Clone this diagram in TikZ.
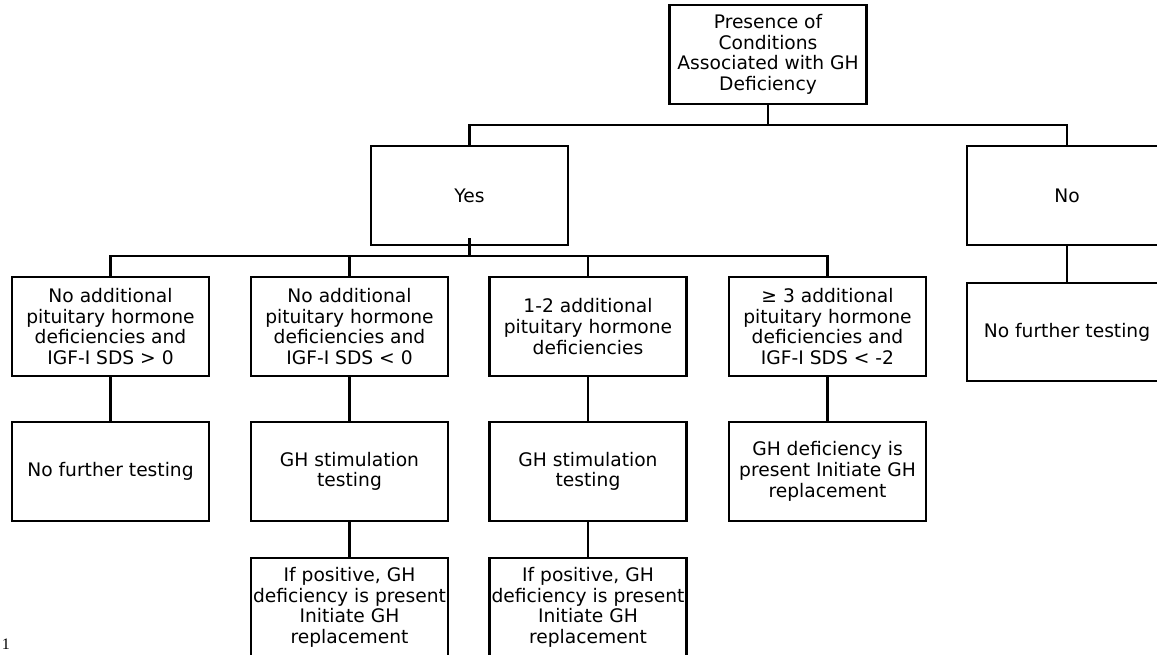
\documentclass[tikz,border=0pt]{standalone}
\usepackage{fontspec}
\setmainfont{DejaVu Sans}
\newfontfamily\pagenofont{Liberation Serif}
\usepackage{tikz}

\begin{document}
\begin{tikzpicture}[x=0.75pt,y=-0.75pt,
		flowbox/.style={rectangle,draw=black,line width=2.2pt,align=center,text centered,inner sep=1pt,minimum width=147.75pt,minimum height=74.25pt,font=\fontsize{14}{15.5}\selectfont},
		treeline/.style={draw=black,line width=2.2pt}]
	\useasboundingbox (0,0) rectangle (1157,655);
	% top of the tree
	\node (presence)[flowbox] at (768,54.5){
		Presence of\\
		Conditions\\
		Associated with GH\\
		Deficiency
	};
	\node (yes)[flowbox] at (469.5,195.5){Yes};
	\node (no)[flowbox,minimum width=150pt] at (1067,195.5){No};
	\node (nofurtherright)[flowbox,minimum width=150pt,minimum height=73.5pt] at (1067,332){No further testing};
	% second row
	\node (noaddpos)[flowbox] at (110.5,326.5){
		No additional\\
		pituitary hormone\\
		deficiencies and\\
		IGF-I SDS > 0
	};
	\node (noaddneg)[flowbox] at (349.5,326.5){
		No additional\\
		pituitary hormone\\
		deficiencies and\\
		IGF-I SDS < 0
	};
	\node (onetwo)[flowbox] at (588,326.5){
		1-2 additional\\
		pituitary hormone\\
		deficiencies
	};
	\node (threeplus)[flowbox] at (827.5,326.5){
		≥ 3 additional\\
		pituitary hormone\\
		deficiencies and\\
		IGF-I SDS < -2
	};
	% third row
	\node (nofurtherleft)[flowbox] at (110.5,471.5){No further testing};
	\node (stimneg)[flowbox] at (349.5,471.5){
		GH stimulation\\
		testing
	};
	\node (stimonetwo)[flowbox] at (588,471.5){
		GH stimulation\\
		testing
	};
	\node (ghpresent)[flowbox] at (827.5,471.5){
		GH deficiency is\\
		present Initiate GH\\
		replacement
	};
	% fourth row
	\node (positiveneg)[flowbox] at (349.5,607.5){
		If positive, GH\\
		deficiency is present\\
		Initiate GH\\
		replacement
	};
	\node (positiveonetwo)[flowbox] at (588,607.5){
		If positive, GH\\
		deficiency is present\\
		Initiate GH\\
		replacement
	};
	\node (pageno)[inner sep=0pt,font=\pagenofont\fontsize{12}{14}\selectfont] at (6,644){1};
	% connectors
	\coordinate (splittop) at (768,125);
	\coordinate (splityes) at (469.5,256);
	\draw[treeline] (presence.south) -- (splittop);
	\draw[treeline] (splittop) -| (yes.north);
	\draw[treeline] (splittop) -| (no.north);
	\draw[treeline] (no.south) -- (nofurtherright.north);
	\draw[treeline] ([yshift=6pt]yes.south) -- (splityes);
	\draw[treeline] (splityes) -| (noaddpos.north);
	\draw[treeline] (splityes) -| (noaddneg.north);
	\draw[treeline] (splityes) -| (onetwo.north);
	\draw[treeline] (splityes) -| (threeplus.north);
	\draw[treeline] (noaddpos.south) -- (nofurtherleft.north);
	\draw[treeline] (noaddneg.south) -- (stimneg.north);
	\draw[treeline] (onetwo.south) -- (stimonetwo.north);
	\draw[treeline] (threeplus.south) -- (ghpresent.north);
	\draw[treeline] (stimneg.south) -- (positiveneg.north);
	\draw[treeline] (stimonetwo.south) -- (positiveonetwo.north);
\end{tikzpicture}
\end{document}
